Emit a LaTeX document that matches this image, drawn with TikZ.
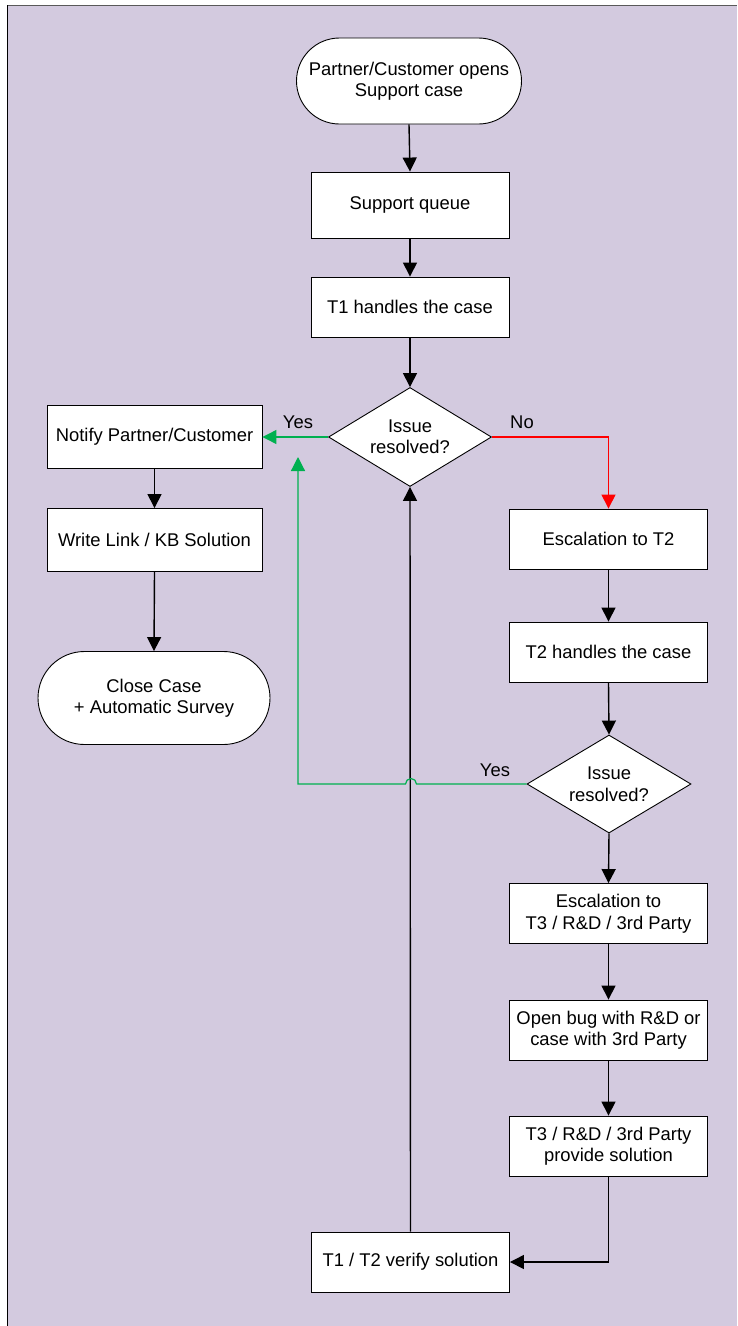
\documentclass[tikz,border=0pt]{standalone}
\usepackage{fontspec}
\setmainfont{Liberation Sans}
\usetikzlibrary{shapes.geometric,shapes.misc,arrows.meta}
\definecolor{bgpurple}{HTML}{D3CADF}
\definecolor{yesgreen}{HTML}{00B050}
\begin{document}
\begin{tikzpicture}[x=1pt, y=-1pt,
	txt/.style={font=\fontsize{18.4}{21.5}\selectfont, align=center, text=black},
	box/.style={txt, rectangle, draw=black, fill=white, line width=0.9pt, inner sep=0pt, minimum width=198pt, minimum height=60pt},
	term/.style={txt, rounded rectangle, draw=black, fill=white, line width=0.9pt, inner sep=0pt},
	decision/.style={txt, diamond, aspect=1.65, draw=black, fill=white, line width=0.9pt, inner sep=0pt, minimum width=163pt, minimum height=99pt},
	answer/.style={txt, inner sep=1pt},
	flow/.style={line width=1.4pt, -{Triangle[length=14pt,width=14pt]}}]
	\useasboundingbox (0,0) rectangle (737,1326);
	\fill[bgpurple] (8,6) rectangle (737,1326);
	\draw[gray!70!black, line width=1.2pt] (7,5.5) -- (737,5.5);
	\draw[line width=1.2pt] (7.5,5) -- (7.5,1326);
	% main column
		\node[term, minimum width=225pt, minimum height=86pt] (start) at (409,81) {Partner/Customer opens\\Support case};
		\node[box, minimum height=66pt] (queue) at (410,205) {Support queue};
		\node[box] (t1) at (410,307) {T1 handles the case};
		\node[decision] (d1) at (410,437) {Issue\\resolved?};
		\node[box] (verify) at (410.5,1262) {T1 / T2 verify solution};
	% left column
		\node[box, minimum width=215pt, minimum height=63pt] (notify) at (154.5,437) {Notify Partner/Customer};
		\node[box, minimum width=215pt, minimum height=63pt] (write) at (154.5,540) {Write Link / KB Solution};
		\node[term, minimum width=232pt, minimum height=93pt] (close) at (154,698) {Close Case\\+ Automatic Survey};
	% right column
		\node[box] (esc2) at (608.5,539) {Escalation to T2};
		\node[box] (t2) at (608.5,652) {T2 handles the case};
		\node[decision, minimum width=164pt, minimum height=98pt] (d2) at (609,784) {Issue\\resolved?};
		\node[box] (esc3) at (608.5,913.5) {Escalation to\\T3 / R\&D / 3rd Party};
		\node[box] (bug) at (608.5,1030) {Open bug with R\&D or\\case with 3rd Party};
		\node[box] (provide) at (608.5,1146) {T3 / R\&D / 3rd Party\\provide solution};
	% answers
		\node[answer] (yes1) at (298,422) {Yes};
		\node[answer] (no1) at (522,422) {No};
		\node[answer] (yes2) at (495,770) {Yes};
		\coordinate (yesend) at (298,457);
	% connectors
		\foreach \a/\b in {start/queue, queue/t1, t1/d1, notify/write, write/close, esc2/t2, t2/d2, d2/esc3, esc3/bug, bug/provide}{
		  \draw[flow] (\a.south) -- (\b.north);
		}
		\draw[flow] (provide.south) -- (provide.south |- verify.east) -- (verify.east);
		\draw[flow] (verify.north) -- (d1.south);
		\draw[flow, red] (d1.east) -- (esc2.north |- d1.east) -- (esc2.north);
		\draw[flow, yesgreen, line width=1.2pt] (d1.west) -- (notify.east);
		\draw[flow, yesgreen, line width=1.2pt] (d2.west) -- ([xshift=6pt]verify.north |- d2.west)
		  arc[start angle=0, end angle=180, radius=5.5pt] -- (yesend |- d2.west) -- (yesend);
	\end{tikzpicture}
\end{document}
